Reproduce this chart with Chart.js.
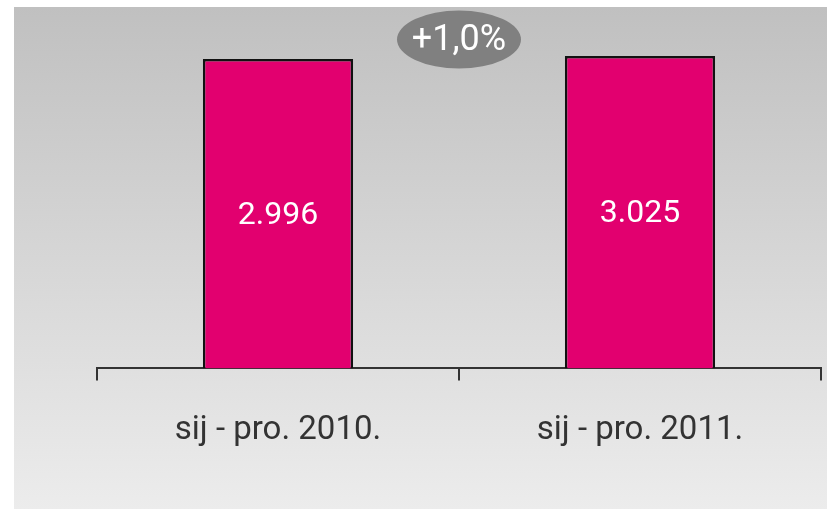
<!DOCTYPE html>
<html>
<head>
<meta charset="utf-8">
<script src="https://cdn.jsdelivr.net/npm/chart.js@4"></script>
<style>
  html, body { margin: 0; padding: 0; background: #fff; }
  #wrap { width: 827px; height: 509px; }
</style>
</head>
<body>
<div id="wrap"><canvas id="salesChart" width="827" height="509"></canvas></div>
<script>
const categories = ['sij - pro. 2010.', 'sij - pro. 2011.'];
const values = [2996, 3025];
const valueLabels = ['2.996', '3.025'];
const changeLabel = '+1,0%';

const FONT = '"Roboto", sans-serif';

// grey gradient panel behind the chart
const panelBg = {
    id: 'panelBg',
    beforeDraw(chart) {
        const ctx = chart.ctx;
        ctx.save();
        ctx.fillStyle = '#ffffff';
        ctx.fillRect(0, 0, chart.width, chart.height);
        const g = ctx.createLinearGradient(0, 7, 0, chart.height);
        g.addColorStop(0, '#c0c0c0');
        g.addColorStop(1, '#ececec');
        ctx.fillStyle = g;
        ctx.fillRect(14, 7, chart.width - 14, chart.height - 7);
        ctx.restore();
    }
};

// value labels inside bars + change badge
const barLabels = {
    id: 'barLabels',
    afterDatasetsDraw(chart) {
        const ctx = chart.ctx;
        const meta = chart.getDatasetMeta(0);
        ctx.save();
        ctx.font = '32px ' + FONT;
        ctx.fillStyle = '#ffffff';
        ctx.textAlign = 'center';
        ctx.textBaseline = 'middle';
        meta.data.forEach((bar, i) => {
            ctx.fillText(valueLabels[i], bar.x, (bar.y + bar.base) / 2 + 2);
        });

        const x = chart.scales.x.getPixelForValue(0.5);
        const y = chart.scales.y.getPixelForValue(3185);
        ctx.fillStyle = '#808080';
        ctx.beginPath();
        ctx.ellipse(x, y, 62, 29, 0, 0, Math.PI * 2);
        ctx.fill();
        ctx.font = '36px ' + FONT;
        ctx.fillStyle = '#ffffff';
        ctx.fillText(changeLabel, x, y + 1);
        ctx.restore();
    }
};

new Chart(document.getElementById('salesChart'), {
    type: 'bar',
    data: {
        labels: categories,
        datasets: [{
            data: values,
            backgroundColor: '#e2006f',
            borderColor: '#111111',
            borderWidth: 2.5,
            categoryPercentage: 1,
            barPercentage: 0.415
        }]
    },
    options: {
        responsive: false,
        animation: false,
        layout: { padding: { left: 97, right: 6, top: 7, bottom: 27 } },
        plugins: {
            legend: { display: false },
            tooltip: { enabled: false }
        },
        scales: {
            x: {
                offset: true,
                grid: {
                    drawOnChartArea: false,
                    color: '#333333',
                    lineWidth: 2,
                    tickLength: 12
                },
                border: { color: '#333333', width: 2 },
                ticks: {
                    color: '#333333',
                    padding: 31,
                    font: { family: FONT, size: 33 }
                }
            },
            y: {
                display: false,
                min: 0,
                max: 3500
            }
        }
    },
    plugins: [panelBg, barLabels]
});
</script>
</body>
</html>
